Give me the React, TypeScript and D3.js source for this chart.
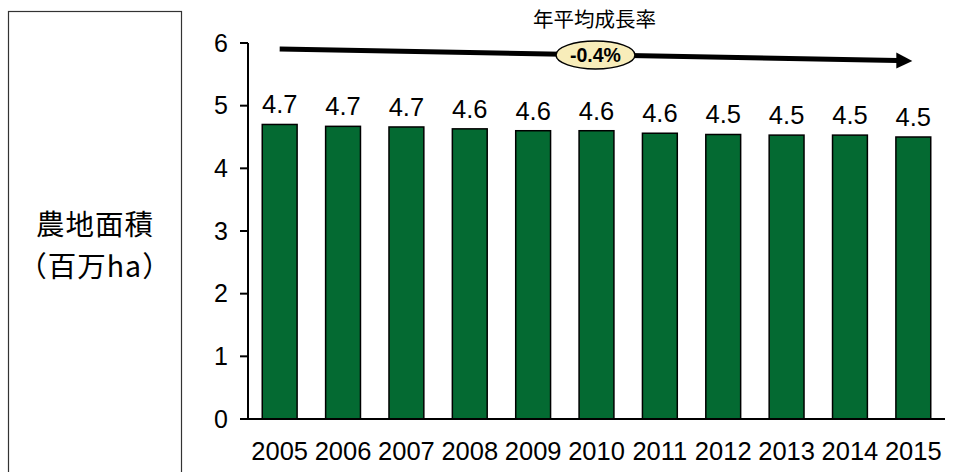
import React from "react";
import * as d3 from "d3";

const years = ["2005","2006","2007","2008","2009","2010","2011","2012","2013","2014","2015"];
const areas = [4.70, 4.67, 4.66, 4.63, 4.60, 4.60, 4.56, 4.54, 4.53, 4.53, 4.50];
const yTicks = [0, 1, 2, 3, 4, 5, 6];
const titleLines = ["農地面積", "（百万ha）"];
const growthLabel = "年平均成長率";
const growthValue = "-0.4%";

const W = 964, H = 472;
const NUM_FONT = "'Liberation Sans', Arial, sans-serif";
const JP_FONT = "'Noto Sans CJK JP', 'Noto Sans', sans-serif";

export default function App() {
  const x = d3.scaleBand<string>().domain(years).range([248, 945]).paddingInner(0.45).paddingOuter(0.225);
  const y = d3.scaleLinear().domain([0, 6]).range([419, 43]);
  const bw = x.bandwidth();
  const first = years[0], last = years[years.length - 1];
  const ax1 = (x(first) as number) + bw / 2;
  const ax2 = (x(last) as number) + bw / 2;

  return (
    <svg width={W} height={H} style={{ position: "absolute", left: 0, top: 0, display: "block", background: "#fff" }}>
      <rect x={8.5} y={11.5} width={173} height={480} fill="none" stroke="#333" strokeWidth={1.2} />
      {titleLines.map((t, i) => (
        <text key={i} x={95} y={235 + i * 41.5} textAnchor="middle" fontFamily={JP_FONT} fontSize={28.5} letterSpacing={1} fill="#000">{t}</text>
      ))}
      {/* bars */}
      {years.map((yr, i) => (
        <g key={yr}>
          <rect x={x(yr)} y={y(areas[i])} width={bw} height={y(0) - y(areas[i])} fill="#046A32" stroke="#000" strokeWidth={1.5} />
          <text x={(x(yr) as number) + bw / 2} y={y(areas[i]) - 11} textAnchor="middle" fontFamily={NUM_FONT} fontSize={25.5} fill="#000">{d3.format(".1f")(areas[i])}</text>
          <text x={(x(yr) as number) + bw / 2} y={460} textAnchor="middle" fontFamily={NUM_FONT} fontSize={25.5} fill="#000">{yr}</text>
        </g>
      ))}
      {/* axes */}
      <line x1={248} x2={248} y1={y(6)} y2={y(0)} stroke="#000" strokeWidth={2} />
      <line x1={240} x2={945} y1={y(0)} y2={y(0)} stroke="#000" strokeWidth={2} />
      {yTicks.map(t => (
        <g key={t}>
          <line x1={240} x2={248} y1={y(t)} y2={y(t)} stroke="#000" strokeWidth={2} />
          <text x={228} y={y(t)} dy="0.35em" textAnchor="end" fontFamily={NUM_FONT} fontSize={25} fill="#000">{t}</text>
        </g>
      ))}
      {/* trend arrow */}
      <line x1={ax1} y1={49} x2={ax2 - 16} y2={60.5} stroke="#000" strokeWidth={5} />
      <path d={`M${ax2 - 17},${52.5} L${ax2 - 1},${61} L${ax2 - 17},${68.5} Z`} fill="#000" />
      <text x={594.5} y={27} textAnchor="middle" fontFamily={JP_FONT} fontSize={20.5} fill="#000">{growthLabel}</text>
      <ellipse cx={595.5} cy={55} rx={39.5} ry={14} fill="#F8EDBA" stroke="#000" strokeWidth={1.5} />
      <text x={595.5} y={55} dy="0.36em" textAnchor="middle" fontFamily={NUM_FONT} fontWeight="bold" fontSize={19.5} fill="#000">{growthValue}</text>
    </svg>
  );
}
